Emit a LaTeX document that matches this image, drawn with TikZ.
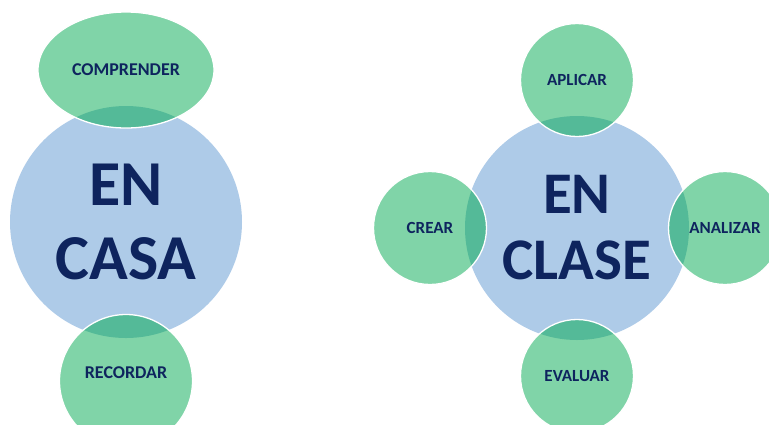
\documentclass[tikz,border=0pt]{standalone}
\usepackage{fontspec}
\setmainfont{Carlito}
\usetikzlibrary{shapes.geometric}

\definecolor{hubblue}{RGB}{174,203,232}
\definecolor{leafgreen}{RGB}{128,212,168}
\definecolor{leafdark}{RGB}{84,186,152}
\definecolor{inkblue}{RGB}{14,36,94}

\tikzset{
  hub/.style={circle, inner sep=0pt, fill=hubblue, text=inkblue,
    font=\bfseries, align=center},
  leaf/.style={circle, inner sep=0pt, fill=leafgreen, draw=white,
    line width=1.3pt, text=inkblue, font=\bfseries\fontsize{17}{20}\selectfont},
  % darker tint where a leaf lies over its hub circle
  overlap/.style 2 args={path picture={\fill[leafdark] (#1.center) circle[radius=#2];}}
}

\begin{document}
\begin{tikzpicture}[x=1pt,y=-1pt]
  \useasboundingbox[fill=white] (0,0) rectangle (769,424);

  % --- home block ---
  \node[hub, minimum size=232pt, font=\bfseries\fontsize{64}{74}\selectfont]
    (casa) at (126,222) {EN\\CASA};
  \node[leaf, ellipse, minimum width=176pt, minimum height=116pt,
    font=\bfseries\fontsize{18}{21}\selectfont, overlap={casa}{116pt}]
    (comprender) at (126,70) {COMPRENDER};
  \node[leaf, minimum size=133pt, font=\bfseries\fontsize{18}{21}\selectfont,
    overlap={casa}{116pt}]
    (recordar) at (126,381) {\raisebox{16pt}{RECORDAR}};

  % --- class block ---
  \node[hub, minimum size=224pt, font=\bfseries\fontsize{59}{66}\selectfont]
    (clase) at (577,228) {EN\\CLASE};
  \node[leaf, minimum size=113pt, overlap={clase}{112pt}]
    (aplicar) at (577,80) {APLICAR};
  \node[leaf, minimum size=113pt, overlap={clase}{112pt}]
    (crear) at (430,228) {CREAR};
  \node[leaf, minimum size=113pt, overlap={clase}{112pt}]
    (analizar) at (725,228) {ANALIZAR};
  \node[leaf, minimum size=113pt, overlap={clase}{112pt}]
    (evaluar) at (577,376) {EVALUAR};
\end{tikzpicture}
\end{document}
